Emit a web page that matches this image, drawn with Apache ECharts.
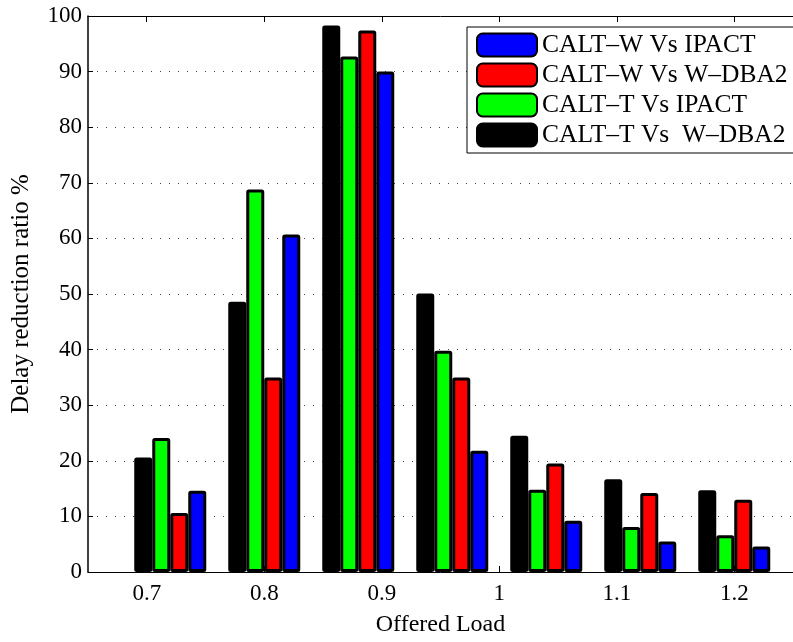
<!DOCTYPE html>
<html>
<head>
<meta charset="utf-8">
<script src="https://cdn.jsdelivr.net/npm/echarts@6/dist/echarts.min.js"></script>
<style>
html, body { margin: 0; padding: 0; background: #fff; }
#main { width: 793px; height: 642px; }
</style>
</head>
<body>
<div id="main"></div>
<script>
// offered loads of the bar groups, and the tick labels shown under the axis
var loads = [0.72, 0.8, 0.88, 0.96, 1.04, 1.12, 1.2];
var xTicks = [0.7, 0.8, 0.9, 1, 1.1, 1.2];

// delay reduction ratio (%) per series
var caltTvsWdba2 = [20.6, 48.6, 98.3, 50.1, 24.5, 16.7, 14.7];
var caltTvsIpact = [24.1, 68.8, 92.7, 39.8, 14.8, 8.1, 6.6];
var caltWvsWdba2 = [10.6, 35.0, 97.4, 35.0, 19.5, 14.2, 13.0];
var caltWvsIpact = [14.6, 60.7, 90.0, 21.8, 9.2, 5.5, 4.6];

var font = 'Liberation Serif';

function pairs(vals) {
    return loads.map(function (x, i) { return [x, vals[i]]; });
}

function barSeries(name, color, vals) {
    return {
        name: name,
        type: 'bar',
        barWidth: 18,
        barGap: '0%',
        itemStyle: { color: color, borderColor: '#000', borderWidth: 3, borderRadius: 1 },
        data: pairs(vals)
    };
}

var chart = echarts.init(document.getElementById('main'));
chart.setOption({
    animation: false,
    backgroundColor: '#fff',
    grid: { left: 88, right: -11, top: 16, bottom: 63 },
    legend: {
        orient: 'vertical',
        left: 467,
        top: 27,
        padding: [5, 6, 5, 9],
        itemGap: 4,
        itemWidth: 60,
        itemHeight: 23,
        borderColor: '#000',
        borderWidth: 1,
        backgroundColor: '#fff',
        textStyle: { fontFamily: font, fontSize: 25.5, color: '#000' },
        data: ['CALT–W Vs IPACT', 'CALT–W Vs W–DBA2', 'CALT–T Vs IPACT', 'CALT–T Vs  W–DBA2']
    },
    xAxis: [{
        type: 'value',
        min: 0.65,
        max: 1.25,
        name: 'Offered Load',
        nameLocation: 'middle',
        nameGap: 41,
        nameTextStyle: { fontFamily: font, fontSize: 24, color: '#000' },
        axisLine: { lineStyle: { color: '#000', width: 1 } },
        axisTick: { inside: true, length: 6, customValues: xTicks, lineStyle: { color: '#000' } },
        axisLabel: {
            customValues: xTicks,
            fontFamily: font, fontSize: 23, color: '#000', margin: 10,
            formatter: function (v) { return String(Math.round(v * 10) / 10); }
        },
        splitLine: { show: false }
    }, {
        type: 'value',
        position: 'top',
        min: 0.65,
        max: 1.25,
        axisLine: { lineStyle: { color: '#000', width: 1 } },
        axisTick: { inside: true, length: 6, customValues: xTicks, lineStyle: { color: '#000' } },
        axisLabel: { show: false },
        splitLine: { show: false }
    }],
    yAxis: {
        type: 'value',
        min: 0,
        max: 100,
        interval: 10,
        name: 'Delay reduction ratio %',
        nameLocation: 'middle',
        nameGap: 54,
        nameTextStyle: { fontFamily: font, fontSize: 25, color: '#000' },
        axisLine: { show: true, lineStyle: { color: '#000', width: 1.5 } },
        axisTick: { show: true, inside: true, length: 5, lineStyle: { color: '#000' } },
        axisLabel: { fontFamily: font, fontSize: 23, color: '#000', margin: 6 },
        splitLine: { show: true, lineStyle: { color: '#444', width: 1, type: [1, 8] } }
    },
    series: [
        barSeries('CALT–T Vs  W–DBA2', '#000000', caltTvsWdba2),
        barSeries('CALT–T Vs IPACT', '#00ff00', caltTvsIpact),
        barSeries('CALT–W Vs W–DBA2', '#ff0000', caltWvsWdba2),
        barSeries('CALT–W Vs IPACT', '#0000ff', caltWvsIpact)
    ]
});
</script>
</body>
</html>
